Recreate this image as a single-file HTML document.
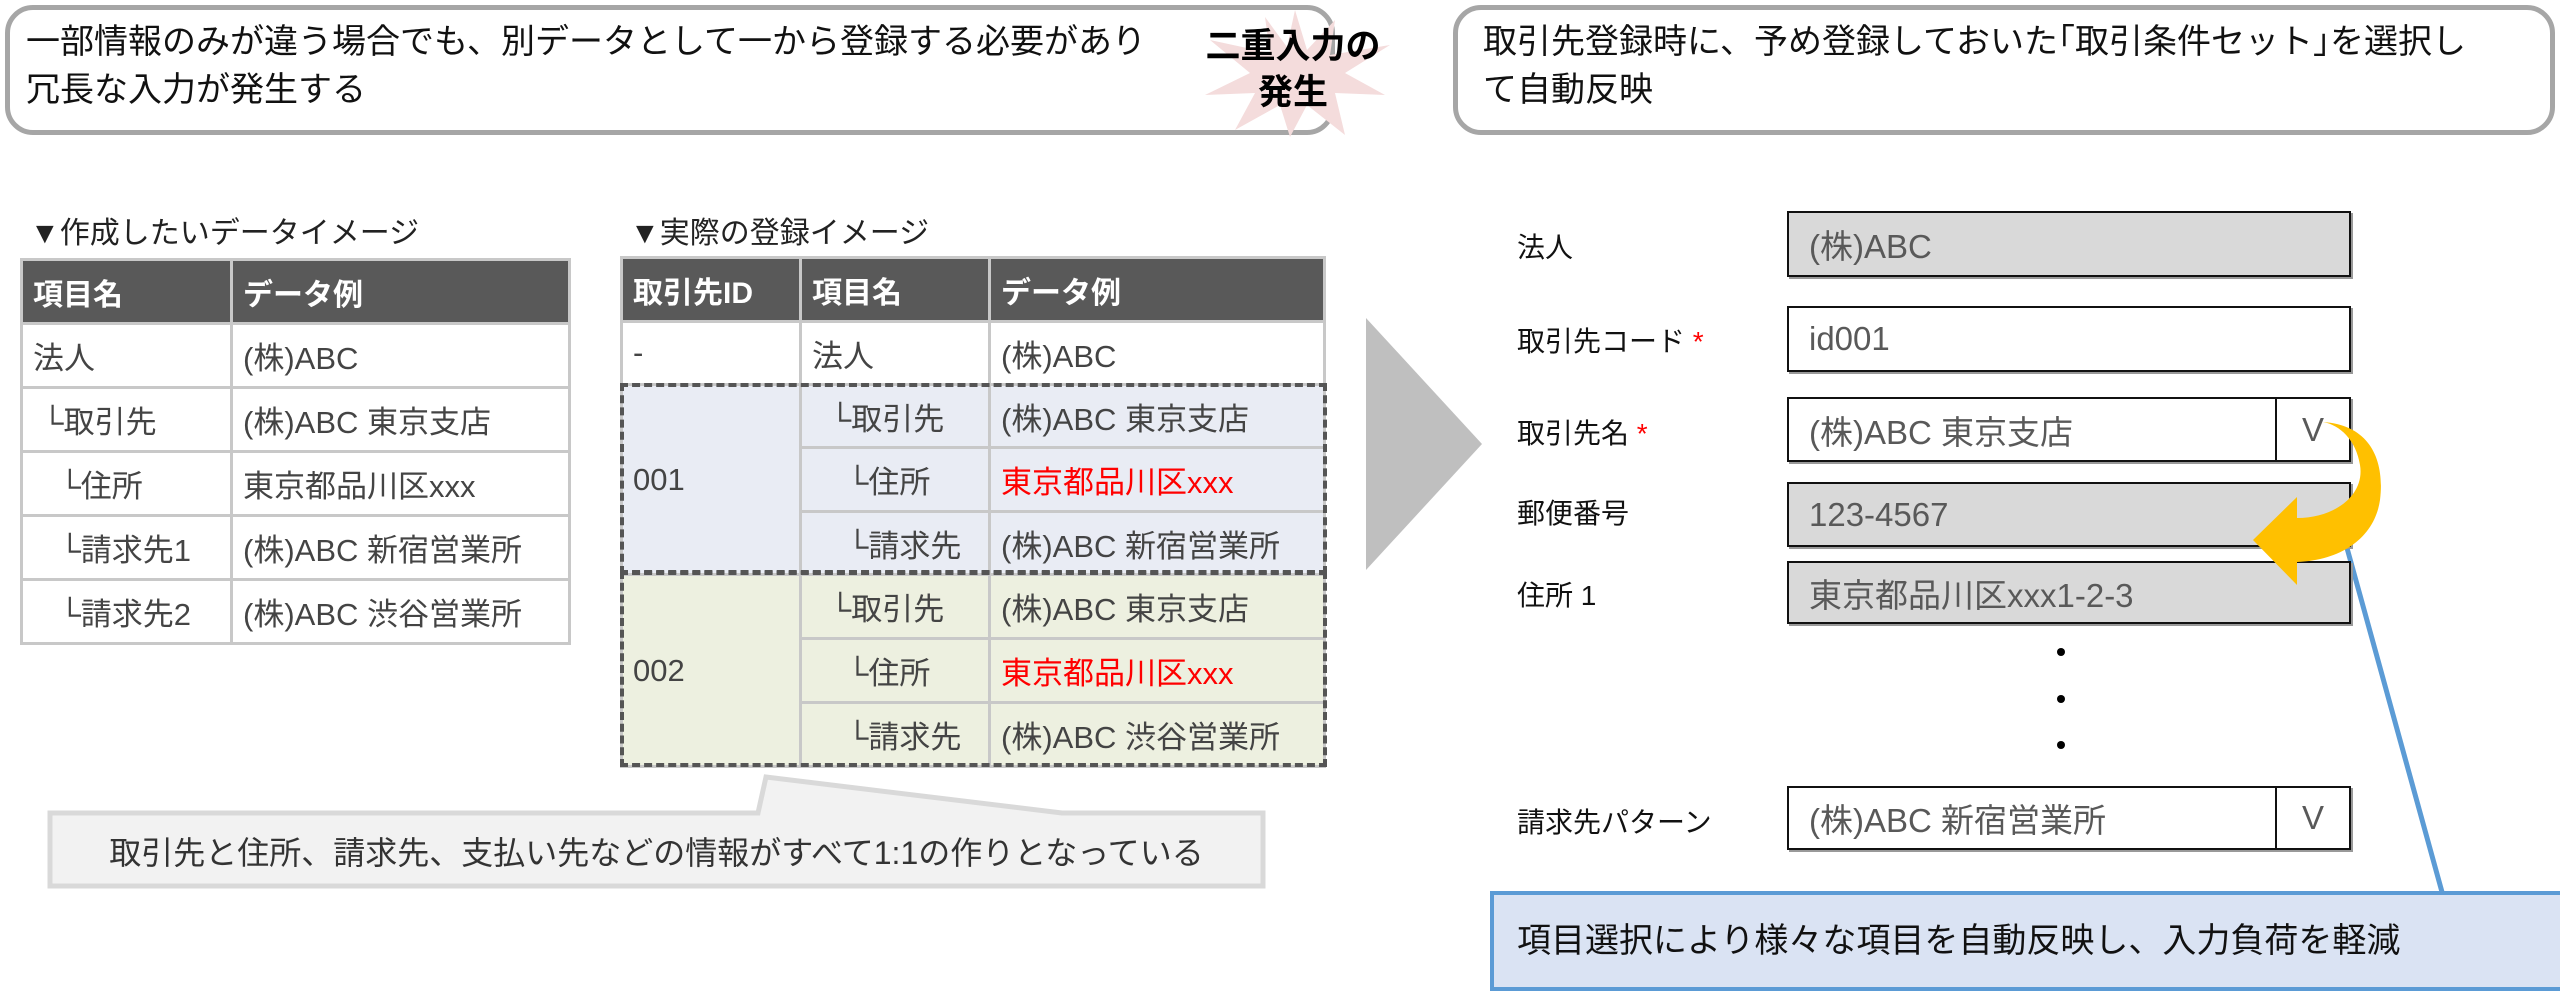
<!DOCTYPE html>
<html><head><meta charset="utf-8"><style>
*{margin:0;padding:0;box-sizing:border-box}
body{width:2560px;height:987px;background:#fff;position:relative;overflow:hidden;font-family:"Liberation Sans","Noto Sans CJK JP",sans-serif}
.a{position:absolute;white-space:nowrap}
.rb{position:absolute;border:5px solid #a6a6a6;border-radius:28px;background:#fff}
.t{font-size:34px;color:#111;line-height:48px}
table{position:absolute;border-collapse:collapse;font-size:31px;color:#444}
td{border:3px solid #c8c8c8;padding:0 10px;white-space:nowrap}
th{background:#595959;color:#fff;text-align:left;font-weight:bold;padding:0 10px;border:3px solid #c8c8c8;font-size:30px}
.lbl{position:absolute;font-size:28px;color:#111;white-space:nowrap}
.f{position:absolute;border:2px solid #111;box-shadow:2px 2px 0 #999;font-size:33px;color:#595959;padding-left:20px;display:flex;align-items:center}
.g{background:#d9d9d9}
.v{position:absolute;right:0;top:0;bottom:0;width:74px;border-left:2px solid #111;display:flex;align-items:center;justify-content:center}
</style></head><body>
<div class="rb" style="left:5px;top:5px;width:1330px;height:130px"></div>
<div class="a t" style="left:26px;top:18px">一部情報のみが違う場合でも、別データとして一から登録する必要があり<br>冗長な入力が発生する</div>
<svg class="a" style="left:1195px;top:5px" width="200" height="135" viewBox="0 0 200 135">
<polygon fill="#f4dcdc" points="100,5 112,45 140,15 135,50 195,40 150,68 190,90 140,88 150,130 112,100 95,132 85,100 40,125 60,88 10,90 55,68 15,35 75,48 70,12 92,42" />
</svg>
<div class="a" style="left:1193px;top:24px;width:200px;text-align:center;font-size:35px;font-weight:bold;line-height:46px;color:#000">二重入力の<br>発生</div>

<div class="rb" style="left:1453px;top:5px;width:1102px;height:130px"></div>
<div class="a t" style="left:1483px;top:18px">取引先登録時に、予め登録しておいた｢取引条件セット｣を選択し<br>て自動反映</div>

<div class="a" style="left:30px;top:208px;font-size:30px;color:#222">▼作成したいデータイメージ</div>
<div class="a" style="left:630px;top:208px;font-size:30px;color:#222">▼実際の登録イメージ</div>

<table style="left:20px;top:258px;width:551px">
<tr style="height:64px"><th style="width:210px">項目名</th><th>データ例</th></tr>
<tr style="height:64px"><td>法人</td><td>(株)ABC</td></tr>
<tr style="height:64px"><td>&nbsp;└取引先</td><td>(株)ABC 東京支店</td></tr>
<tr style="height:64px"><td>&nbsp;&nbsp;&nbsp;└住所</td><td>東京都品川区xxx</td></tr>
<tr style="height:64px"><td>&nbsp;&nbsp;&nbsp;└請求先1</td><td>(株)ABC 新宿営業所</td></tr>
<tr style="height:64px"><td>&nbsp;&nbsp;&nbsp;└請求先2</td><td>(株)ABC 渋谷営業所</td></tr>
</table>

<div class="a" style="left:620px;top:383px;width:706px;height:190px;background:#e9ecf4"></div>
<div class="a" style="left:620px;top:573px;width:706px;height:192px;background:#edf0e0"></div>
<table style="left:620px;top:256px;width:706px">
<tr style="height:64px"><th style="width:179px">取引先ID</th><th style="width:189px">項目名</th><th>データ例</th></tr>
<tr style="height:63px"><td>-</td><td>法人</td><td>(株)ABC</td></tr>
<tr style="height:63px"><td rowspan="3" style="border-bottom:none">001</td><td>&nbsp;&nbsp;└取引先</td><td>(株)ABC 東京支店</td></tr>
<tr style="height:64px"><td>&nbsp;&nbsp;&nbsp;&nbsp;└住所</td><td style="color:#f00">東京都品川区xxx</td></tr>
<tr style="height:63px"><td>&nbsp;&nbsp;&nbsp;&nbsp;└請求先</td><td>(株)ABC 新宿営業所</td></tr>
<tr style="height:64px"><td rowspan="3">002</td><td>&nbsp;&nbsp;└取引先</td><td>(株)ABC 東京支店</td></tr>
<tr style="height:64px"><td>&nbsp;&nbsp;&nbsp;&nbsp;└住所</td><td style="color:#f00">東京都品川区xxx</td></tr>
<tr style="height:64px"><td>&nbsp;&nbsp;&nbsp;&nbsp;└請求先</td><td>(株)ABC 渋谷営業所</td></tr>
</table>
<div class="a" style="left:620px;top:383px;width:707px;height:191px;border:4px dashed #555"></div>
<div class="a" style="left:620px;top:571px;width:707px;height:196px;border:4px dashed #555"></div>

<svg class="a" style="left:0;top:0" width="2560" height="987">
<path d="M50,813 L758,813 L766,777 L1062,813 L1263,813 L1263,886 L50,886 Z" fill="#f2f2f2" stroke="#d9d9d9" stroke-width="5"/>
<polygon points="1366,318 1482,444 1366,570" fill="#bfbfbf"/>
<line x1="2347" y1="548" x2="2442" y2="892" stroke="#5b9bd5" stroke-width="5"/>
</svg>
<div class="a" style="left:50px;top:828px;width:1213px;text-align:center;font-size:32px;color:#333">取引先と住所、請求先、支払い先などの情報がすべて1:1の作りとなっている</div>

<div class="lbl" style="left:1517px;top:226px">法人</div>
<div class="f g" style="left:1787px;top:211px;width:564px;height:66px">(株)ABC</div>
<div class="lbl" style="left:1517px;top:320px">取引先コード <span style="color:#f00">*</span></div>
<div class="f" style="left:1787px;top:306px;width:564px;height:66px">id001</div>
<div class="lbl" style="left:1517px;top:412px">取引先名 <span style="color:#f00">*</span></div>
<div class="f" style="left:1787px;top:397px;width:564px;height:65px">(株)ABC 東京支店<div class="v">V</div></div>
<div class="lbl" style="left:1517px;top:492px">郵便番号</div>
<div class="f g" style="left:1787px;top:482px;width:564px;height:65px">123-4567</div>
<div class="lbl" style="left:1517px;top:574px">住所 1</div>
<div class="f g" style="left:1787px;top:561px;width:564px;height:63px">東京都品川区xxx1-2-3</div>
<div class="a" style="left:2057px;top:648px;width:8px;height:8px;border-radius:50%;background:#000"></div>
<div class="a" style="left:2057px;top:695px;width:8px;height:8px;border-radius:50%;background:#000"></div>
<div class="a" style="left:2057px;top:741px;width:8px;height:8px;border-radius:50%;background:#000"></div>
<div class="lbl" style="left:1517px;top:801px">請求先パターン</div>
<div class="f" style="left:1787px;top:786px;width:564px;height:64px">(株)ABC 新宿営業所<div class="v">V</div></div>

<svg class="a" style="left:0;top:0" width="2560" height="987">
<path d="M2323,422 C2370,425 2385,460 2380,500 C2375,535 2345,560 2297,562 L2297,585 L2253,540 L2297,497 L2297,518 C2335,518 2365,495 2360,465 C2356,440 2340,425 2323,422 Z" fill="#ffc000"/>
</svg>

<div class="a" style="left:1490px;top:891px;width:1075px;height:100px;background:#dae3f3;border:4px solid #5b9bd5"></div>
<div class="a" style="left:1517px;top:913px;font-size:34px;color:#111">項目選択により様々な項目を自動反映し、入力負荷を軽減</div>
</body></html>
